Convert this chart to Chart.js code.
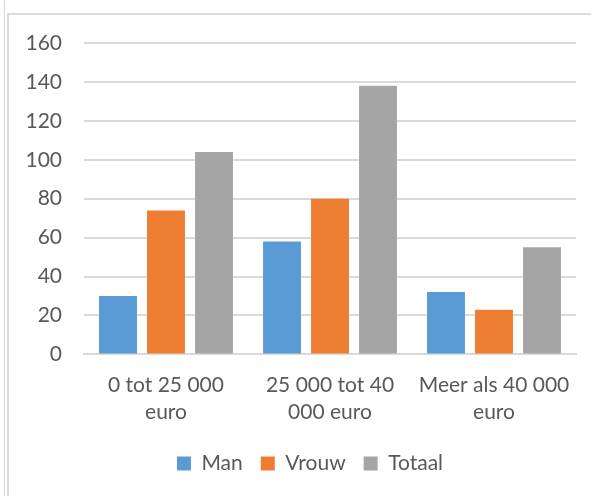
<!DOCTYPE html>
<html>
<head>
<meta charset="utf-8">
<script src="https://cdn.jsdelivr.net/npm/chart.js"></script>
<style>
  body { margin: 0; background: #fff; }
  #page { position: relative; width: 591px; height: 496px; overflow: hidden; }
  #outer { position: absolute; left: 4px; top: 0; width: 1px; height: 496px; background: #d6d6d6; }
  #frame { position: absolute; left: 7px; top: 13px; width: 584px; height: 483px;
           border-left: 2px solid #dcdcdc; border-top: 2px solid #dcdcdc; box-sizing: border-box; }
  #wrap { position: absolute; left: 0; top: 0; width: 591px; height: 496px; }
</style>
</head>
<body>
<div id="page">
  <div id="outer"></div>
  <div id="frame"></div>
  <div id="wrap"><canvas id="myChart"></canvas></div>
</div>
<script>
const categories = [['0 tot 25 000', 'euro'], ['25 000 tot 40', '000 euro'], ['Meer als 40 000', 'euro']];
const man = [30, 58, 32];
const vrouw = [74, 80, 23];
const totaal = [104, 138, 55];

Chart.defaults.font.family = 'Lato, "Open Sans", sans-serif';
Chart.defaults.font.size = 21;
Chart.defaults.color = '#595959';

// legend in the original sits a bit right of the page centre
const shiftLegend = {
  id: 'shiftLegend',
  afterLayout(chart) {
    chart.legend.left += 22;
    chart.legend.right += 22;
  }
};

const ctx = document.getElementById('myChart');

new Chart(ctx, {
  type: 'bar',
  data: {
    labels: categories,
    datasets: [{
      label: 'Man',
      data: man,
      backgroundColor: '#5B9BD5'
    }, {
      label: 'Vrouw',
      data: vrouw,
      backgroundColor: '#ED7D31'
    }, {
      label: 'Totaal',
      data: totaal,
      backgroundColor: '#A5A5A5'
    }]
  },
  options: {
    responsive: true,
    maintainAspectRatio: false,
    animation: false,
    datasets: {
      bar: {
        barPercentage: 0.79,
        categoryPercentage: 0.878
      }
    },
    layout: {
      padding: { left: 0, right: 15, top: 43, bottom: 12 }
    },
    scales: {
      x: {
        grid: { display: false },
        border: { color: '#d9d9d9', width: 2 },
        ticks: { padding: 9, maxRotation: 0, autoSkip: false, font: { lineHeight: 1.3 } }
      },
      y: {
        min: 0,
        max: 160,
        ticks: { stepSize: 20, padding: 22 },
        grid: { color: '#d9d9d9', lineWidth: 2, drawTicks: false },
        border: { display: false },
        afterFit: function (scale) { scale.width = 84; }
      }
    },
    plugins: {
      legend: {
        position: 'bottom',
        labels: {
          boxWidth: 14,
          boxHeight: 14,
          padding: 18
        }
      },
      tooltip: { enabled: false }
    }
  },
  plugins: [shiftLegend]
});
</script>
</body>
</html>
